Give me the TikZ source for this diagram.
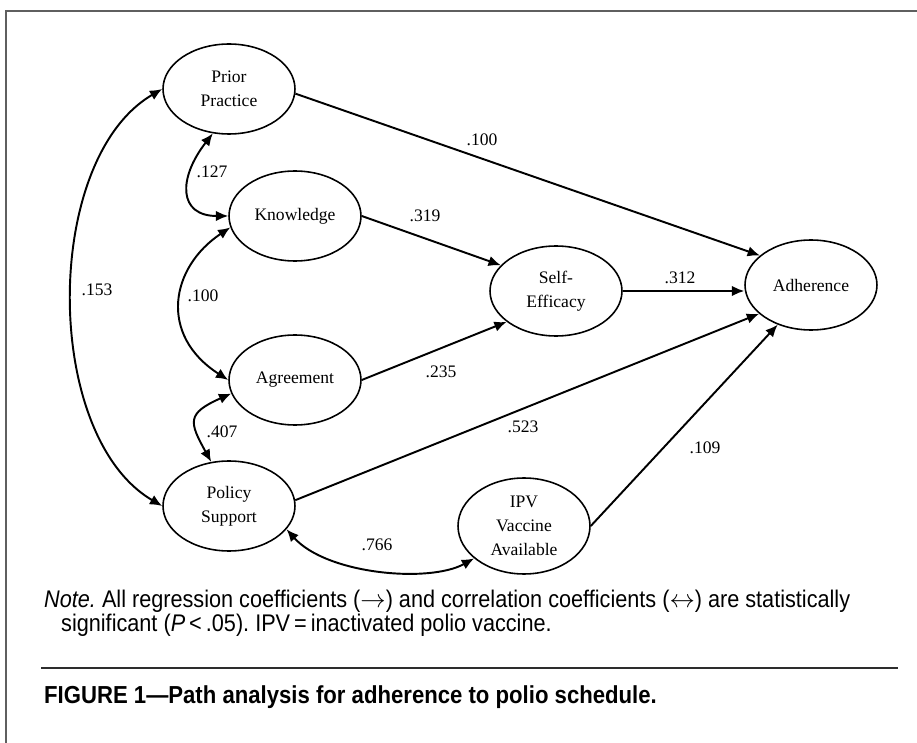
\documentclass[tikz,border=0pt]{standalone}
\usepackage{fontspec}
\setmainfont{Liberation Serif}
\setsansfont{Liberation Sans}[FakeStretch=0.9]
\usetikzlibrary{shapes,arrows.meta,positioning,calc}
\definecolor{framegray}{RGB}{95,95,95}
\definecolor{rulegray}{RGB}{45,45,45}

\tikzset{
  factor/.style={ellipse, draw, line width=0.9pt, minimum width=2.64cm, minimum height=1.8cm,
    inner sep=0pt, align=center, font=\fontsize{10}{13.6}\selectfont},
  regarrow/.style={-{Latex[length=7pt,width=6pt]}, line width=1.1pt},
  corrarrow/.style={{Latex[length=7pt,width=6pt]}-{Latex[length=7pt,width=6pt]}, line width=1.1pt},
  coef/.style={font=\fontsize{10}{12}\selectfont},
  notetext/.style={anchor=base west, font=\sffamily\fontsize{13.7}{16}\selectfont}
}

\begin{document}
\frenchspacing
\begin{tikzpicture}[x=0.02cm, y=-0.02cm]
    \useasboundingbox (0,0) rectangle (917,743);
    % Frame
    \draw[framegray, line width=1.2pt] (917,11) -- (6,11) -- (6,743);

    % Variables
    \node[factor] (prior) at (229,89) {Prior\\Practice};
    \node[factor] (know) at (295,216) {Knowledge};
    \node[factor] (agree) at (295,380) {Agreement};
    \node[factor] (policy) at (229,506) {Policy\\Support};
    \node[factor, minimum height=1.92cm] (ipv) at (524,526) {IPV\\Vaccine\\Available};
    \node[factor] (selfeff) at (556,291) {Self-\\Efficacy};
    \node[factor] (adher) at (811,285) {Adherence};

    % Regression paths
    \draw[regarrow] (prior.-4) -- (adher.150);
    \draw[regarrow] (know.east) -- (selfeff.155);
    \draw[regarrow] (agree.east) -- (selfeff.212);
    \draw[regarrow] (selfeff.east) -- (selfeff.east -| adher.west);
    \draw[regarrow] (policy.5) -- (adher.209);
    \draw[regarrow] (ipv.east) -- (adher.230);

    % Correlations
    \draw[corrarrow] (prior.west) .. controls +(-120,70) and +(-120,-70) .. (policy.west);
    \draw[corrarrow] (prior.250) .. controls +(-35,45) and +(-50,0) .. (know.west);
    \draw[corrarrow] (know.190) .. controls +(-60,40) and +(-70,-45) .. (agree.west);
    \draw[corrarrow] (agree.192) .. controls +(-45,20) and +(-22,-40) .. (policy.112);
    \draw[corrarrow] (policy.-22) .. controls +(40,45) and +(-45,25) .. (ipv.213);

    % Coefficients
    \node[coef] (c1) at (482,140) {.100};
    \node[coef] (c2) at (425,216) {.319};
    \node[coef] (c3) at (680,278) {.312};
    \node[coef] (c4) at (441,372) {.235};
    \node[coef] (c5) at (523,427) {.523};
    \node[coef] (c6) at (705,448) {.109};
    \node[coef] (c7) at (377,545) {.766};
    \node[coef] (c8) at (222,432) {.407};
    \node[coef] (c9) at (212,172) {.127};
    \node[coef] (c10) at (203,296) {.100};
    \node[coef] (c11) at (97,290) {.153};

    % Note and caption
    \node[notetext] (note1) at (38,607)
      {\textit{Note.} All regression coefficients ($\rightarrow$) and correlation coefficients ($\leftrightarrow$) are statistically};
    \node[notetext] (note2) at (55,631)
      {significant (\textit{P}\,<\,.05). IPV\,=\,inactivated polio vaccine.};
    \draw[rulegray, line width=0.9pt] (41,668) -- (898,668);
    \node[notetext, font=\sffamily\bfseries\fontsize{14}{16}\selectfont] (caption) at (38,703)
      {FIGURE 1—Path analysis for adherence to polio schedule.};
\end{tikzpicture}
\end{document}
